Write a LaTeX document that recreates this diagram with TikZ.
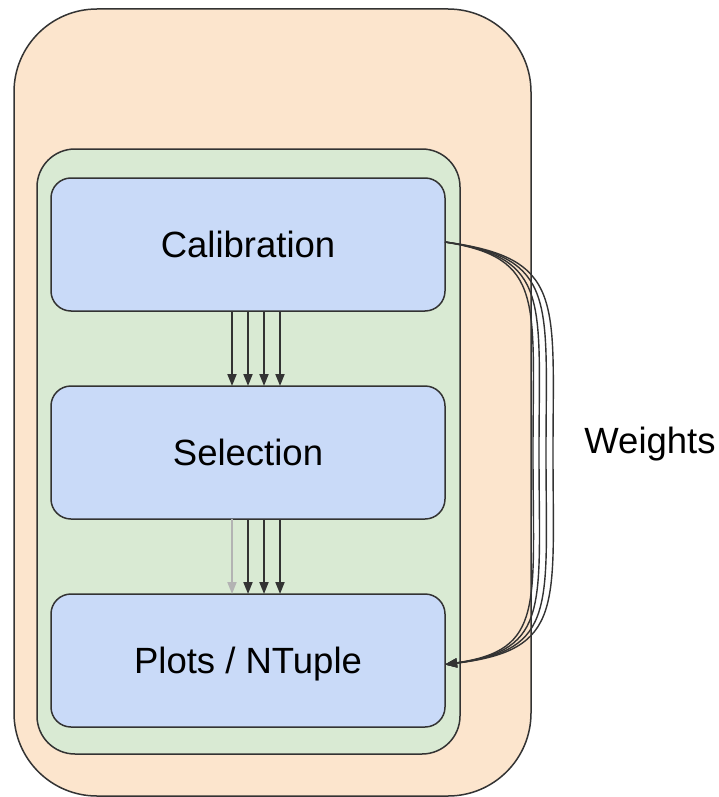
\documentclass[tikz,border=0pt]{standalone}
\usepackage{fontspec}
\setmainfont{Liberation Sans}
\usetikzlibrary{arrows.meta}
\definecolor{outerfill}{HTML}{FCE5CD}
\definecolor{groupfill}{HTML}{D9EAD3}
\definecolor{stagefill}{HTML}{C9DAF8}
\definecolor{edge}{HTML}{333333}
\definecolor{faded}{HTML}{B3B3B3}
\tikzset{
  label font/.style={font=\fontsize{36.5pt}{40pt}\selectfont,
    text height=25.5pt, text depth=0pt},
  panel/.style={draw=edge, line width=1.5pt, inner sep=0pt, outer sep=0pt},
  stagebox/.style={panel, fill=stagefill, rounded corners=20pt,
    minimum width=394pt, minimum height=133pt, label font},
  flow/.style={draw=edge, line width=1.8pt,
    -{Triangle[length=12pt,width=9pt]}},
  weight/.style={draw=edge, line width=1.4pt,
    -{Triangle[length=12pt,width=9pt]}},
}
\begin{document}
\begin{tikzpicture}[x=1pt,y=-1pt]
\useasboundingbox (0,0) rectangle (719,797);
% containers
\node[panel, fill=outerfill, rounded corners=83pt,
  minimum width=517pt, minimum height=787pt] (outer) at (272.5,402.5) {};
\node[panel, fill=groupfill, rounded corners=38pt,
  minimum width=423pt, minimum height=605pt] (group) at (248.5,451.5) {};
% processing stages
\node[stagebox] (cal) at (248,244.5) {Calibration};
\node[stagebox] (sel) at (248,452.5) {Selection};
\node[stagebox] (plots) at (248,660.5) {Plots / NTuple};
% data flow between stages
\foreach \dx in {-16,0,16,32}
  \draw[flow] ([xshift=\dx pt]cal.south) -- ([xshift=\dx pt]sel.north);
\draw[flow, draw=faded, -{Triangle[length=12pt,width=9pt,fill=faded]}]
  ([xshift=-16pt]sel.south) -- ([xshift=-16pt]plots.north);
\foreach \dx in {0,16,32}
  \draw[flow] ([xshift=\dx pt]sel.south) -- ([xshift=\dx pt]plots.north);
% weights passed from calibration to the output stage
\foreach \k in {0,6,13,20}
  \draw[weight] ([yshift=2.5pt]cal.east)
    .. controls (545+\k,258) and (533+\k,300) .. (533+\k,453)
    .. controls (533+\k,606) and (545+\k,650) .. ([yshift=-4pt]plots.east);
\node[label font] (wlabel) at (650,440.5) {Weights};
\end{tikzpicture}
\end{document}
